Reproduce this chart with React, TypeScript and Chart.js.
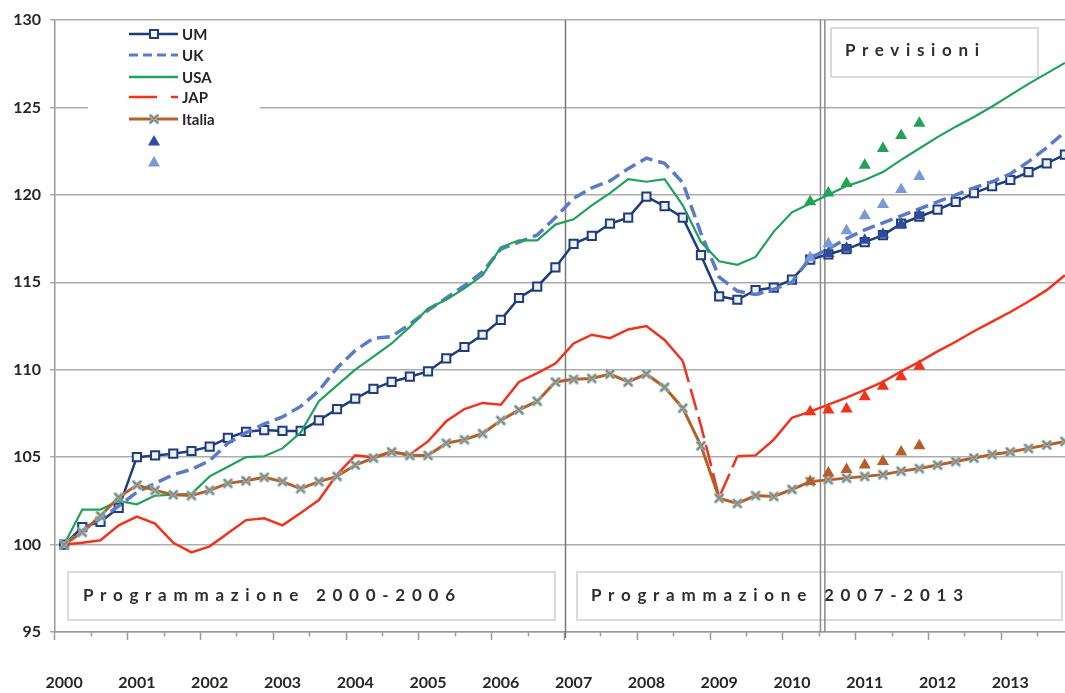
import React, { useEffect, useRef } from 'react';
import { Chart, registerables } from 'chart.js';

Chart.register(...registerables);

// ---------- data ----------
const years = [2000, 2001, 2002, 2003, 2004, 2005, 2006, 2007, 2008, 2009, 2010, 2011, 2012, 2013];
const quarters = ['T1', 'T2', 'T3', 'T4'];
const categories = years.flatMap((y) => quarters.map((q) => `${y} ${q}`));

const yTicks = [95, 100, 105, 110, 115, 120, 125, 130];

const umValues = [
  100.0, 101.0, 101.3, 102.1, 105.0, 105.1, 105.2, 105.35, 105.6, 106.1, 106.45, 106.55, 106.5, 106.5,
  107.1, 107.75, 108.35, 108.9, 109.3, 109.6, 109.9, 110.65, 111.3, 112.0, 112.85, 114.1, 114.75, 115.85,
  117.2, 117.65, 118.35, 118.7, 119.9, 119.35, 118.7, 116.55, 114.2, 114.0, 114.55, 114.7, 115.15, 116.3,
  116.6, 116.9, 117.3, 117.7, 118.35, 118.75, 119.15, 119.6, 120.1, 120.5, 120.85, 121.3, 121.8, 122.3,
];
const ukValues = [
  100.0, 100.8, 101.5, 102.2, 103.0, 103.5, 104.0, 104.3, 104.8, 105.8, 106.4, 106.9, 107.3, 107.9,
  108.8, 110.1, 111.1, 111.8, 111.9, 112.6, 113.4, 114.1, 114.8, 115.6, 116.9, 117.3, 117.7, 118.7,
  119.8, 120.4, 120.8, 121.5, 122.1, 121.8, 120.7, 117.8, 115.3, 114.5, 114.3, 114.6, 115.0, 116.4,
  116.9, 117.5, 118.0, 118.4, 118.8, 119.2, 119.6, 120.0, 120.4, 120.75, 121.2, 121.9, 122.7, 123.6,
];
const usaValues = [
  100.0, 102.0, 102.0, 102.5, 102.3, 102.8, 102.85, 102.9, 103.9, 104.45, 105.0, 105.05, 105.5, 106.4,
  108.2, 109.1, 110.0, 110.75, 111.5, 112.45, 113.5, 114.0, 114.65, 115.4, 117.0, 117.4, 117.4, 118.3,
  118.6, 119.4, 120.1, 120.9, 120.75, 120.9, 119.4, 117.3, 116.2, 116.0, 116.45, 117.9, 119.0, 119.5,
  120.0, 120.5, 120.85, 121.3, 122.0, 122.65, 123.3, 123.9, 124.45, 125.05, 125.7, 126.35, 126.95, 127.55,
];
const japValues = [
  100.0, 100.1, 100.25, 101.1, 101.6, 101.2, 100.1, 99.55, 99.9, 100.65, 101.4, 101.5, 101.1, 101.8,
  102.55, 104.0, 105.1, 105.0, 105.3, 105.15, 105.9, 107.05, 107.75, 108.1, 108.0, 109.3, 109.8, 110.35,
  111.5, 112.0, 111.8, 112.3, 112.5, 111.7, 110.5, 106.8, 102.7, 105.05, 105.1, 106.0, 107.25, 107.6,
  108.0, 108.4, 108.85, 109.3, 109.9, 110.45, 111.05, 111.6, 112.2, 112.75, 113.3, 113.9, 114.55, 115.4,
];
const italiaValues = [
  100.0, 100.7, 101.65, 102.7, 103.4, 103.1, 102.85, 102.8, 103.1, 103.5, 103.65, 103.85, 103.6, 103.2,
  103.6, 103.9, 104.55, 104.95, 105.3, 105.1, 105.1, 105.8, 106.0, 106.35, 107.1, 107.7, 108.2, 109.3,
  109.45, 109.5, 109.75, 109.3, 109.75, 109.0, 107.8, 105.65, 102.65, 102.35, 102.8, 102.75, 103.15, 103.6,
  103.7, 103.8, 103.9, 104.0, 104.2, 104.35, 104.55, 104.75, 104.95, 105.15, 105.3, 105.5, 105.7, 105.9,
];

// forecasts (triangles): first category index + values
const forecastStart = 41; // 2010 T2
const usaForecast = [119.6, 120.1, 120.65, 121.7, 122.65, 123.4, 124.1];
const ukForecast = [116.4, 117.2, 117.95, 118.8, 119.45, 120.3, 121.05];
const umForecast = [null, 116.65, 116.95, 117.4, 117.75, 118.3, 118.8];
const japForecast = [107.6, 107.7, 107.75, 108.45, 109.05, 109.6, 110.2];
const italiaForecast = [103.6, 104.1, 104.3, 104.55, 104.75, 105.3, 105.65];

const japDashedFrom = 34; // dashed segments 2008 T3 -> 2009 T2
const japDashedTo = 36;
const period2Start = 28; // 2007 T1
const forecastLine = 42; // 2010 T3

function placeForecast(values: (number | null)[]) {
  const out: (number | null)[] = categories.map(() => null);
  values.forEach((v, k) => {
    out[forecastStart + k] = v;
  });
  return out;
}

// ---------- colours ----------
const C_UM = '#1f3d7a';
const C_UK = '#5b7bc8';
const C_USA = '#1fa25a';
const C_JAP = '#f2321c';
const C_IT = '#b5602a';
const C_IT_MARK = '#7cc3d9';
const C_TRI_DARK = '#2f4b9c';
const C_TRI_LIGHT = '#7c98d6';
const C_TRI_RED = '#f0341c';
const C_TRI_GREEN = '#22a257';
const C_TRI_BROWN = '#b5602a';

function makeItaliaMarker(): HTMLCanvasElement {
  const c = document.createElement('canvas');
  c.width = 12;
  c.height = 12;
  const g = c.getContext('2d')!;
  g.lineCap = 'round';
  const path = () => {
    g.beginPath();
    g.moveTo(2.5, 2.5);
    g.lineTo(9.5, 9.5);
    g.moveTo(9.5, 2.5);
    g.lineTo(2.5, 9.5);
  };
  g.strokeStyle = C_IT_MARK;
  g.lineWidth = 3.4;
  path();
  g.stroke();
  g.strokeStyle = C_IT;
  g.lineWidth = 1.1;
  path();
  g.stroke();
  return c;
}

function spacedText(ctx: CanvasRenderingContext2D, text: string, x: number, y: number, target: number) {
  const plain = ctx.measureText(text).width;
  const sp = (target - plain) / (text.length - 1);
  const anyCtx = ctx as any;
  if ('letterSpacing' in anyCtx) {
    anyCtx.letterSpacing = `${sp}px`;
    ctx.fillText(text, x, y);
    anyCtx.letterSpacing = '0px';
  } else {
    let cx = x;
    for (const ch of text) {
      ctx.fillText(ch, cx, y);
      cx += ctx.measureText(ch).width + sp;
    }
  }
}

function drawTriangle(ctx: CanvasRenderingContext2D, x: number, y: number, r: number, color: string) {
  ctx.beginPath();
  for (let k = 0; k < 3; k++) {
    const a = (k * 2 * Math.PI) / 3;
    const px = x + Math.sin(a) * r;
    const py = y - Math.cos(a) * r;
    if (k === 0) ctx.moveTo(px, py);
    else ctx.lineTo(px, py);
  }
  ctx.closePath();
  ctx.fillStyle = color;
  ctx.fill();
}

export default function App() {
  const ref = useRef<HTMLCanvasElement | null>(null);

  useEffect(() => {
    document.body.style.margin = '0';
    const canvas = ref.current;
    if (!canvas) return;
    const itMarker = makeItaliaMarker();

    const overlay = {
      id: 'overlay',
      beforeDatasetsDraw(chart: any) {
        const ctx: CanvasRenderingContext2D = chart.ctx;
        const xs = chart.scales.x;
        const area = chart.chartArea;
        const boundary = (i: number) => (xs.getPixelForValue(i - 1) + xs.getPixelForValue(i)) / 2;
        ctx.save();

        // text boxes
        const box = (x1: number, y1: number, x2: number, y2: number) => {
          ctx.fillStyle = 'rgba(255,255,255,0.75)';
          ctx.fillRect(x1, y1, x2 - x1, y2 - y1);
          ctx.strokeStyle = '#cfcfcf';
          ctx.lineWidth = 1.5;
          ctx.strokeRect(x1, y1, x2 - x1, y2 - y1);
        };
        box(68, 572, 555, 620);
        box(577, 572, 1062, 620);
        box(831, 28, 1038, 77);

        ctx.fillStyle = '#2e2e2e';
        ctx.font = 'bold 17px Lato, "Open Sans", sans-serif';
        ctx.textBaseline = 'middle';
        ctx.textAlign = 'left';
        spacedText(ctx, 'Programmazione 2000-2006', 83, 596, 372);
        spacedText(ctx, 'Programmazione 2007-2013', 591, 596, 372);
        spacedText(ctx, 'Previsioni', 845, 51, 134);

        // vertical separators
        const xp = boundary(period2Start) + 1;
        ctx.strokeStyle = '#7a7a7a';
        ctx.lineWidth = 1.5;
        ctx.beginPath();
        ctx.moveTo(xp, area.top);
        ctx.lineTo(xp, area.bottom + 6);
        ctx.stroke();
        const xf = boundary(forecastLine);
        ctx.strokeStyle = '#8a8a8a';
        ctx.beginPath();
        ctx.moveTo(xf + 1.2, area.top);
        ctx.lineTo(xf + 1.2, area.bottom);
        ctx.moveTo(xf + 5.6, area.top);
        ctx.lineTo(xf + 5.6, area.bottom);
        ctx.stroke();

        // legend
        ctx.fillStyle = '#ffffff';
        ctx.fillRect(88, 24, 172, 150);
        const lx1 = 129;
        const lx2 = 178;
        const lxm = 154;
        const tx = 182;
        ctx.font = 'bold 15px Lato, "Open Sans", sans-serif';
        const label = (t: string, y: number) => {
          ctx.fillStyle = '#262626';
          ctx.fillText(t, tx, y + 1);
        };
        const seg = (y: number, color: string, w: number, dash: number[]) => {
          ctx.strokeStyle = color;
          ctx.lineWidth = w;
          ctx.setLineDash(dash);
          ctx.beginPath();
          ctx.moveTo(lx1, y);
          ctx.lineTo(lx2, y);
          ctx.stroke();
          ctx.setLineDash([]);
        };
        // UM
        seg(34, C_UM, 2.5, []);
        ctx.fillStyle = '#ffffff';
        ctx.fillRect(lxm - 4, 30, 8, 8);
        ctx.strokeStyle = C_UM;
        ctx.lineWidth = 2;
        ctx.strokeRect(lxm - 4, 30, 8, 8);
        label('UM', 34);
        // UK
        seg(55, C_UK, 3, [9, 5]);
        label('UK', 55);
        // USA
        seg(77, C_USA, 2.5, []);
        label('USA', 77);
        // JAP
        seg(97, C_JAP, 2.5, [28, 14]);
        label('JAP', 97);
        // Italia
        seg(119, C_IT, 3, []);
        ctx.drawImage(itMarker, lxm - 6, 113);
        label('Italia', 119);
        // triangles
        drawTriangle(ctx, lxm, 142, 7, C_TRI_DARK);
        drawTriangle(ctx, lxm, 163, 7, C_TRI_LIGHT);

        ctx.restore();
      },
    };

    const tri = (data: (number | null)[], color: string, order: number) => ({
      label: '',
      data: placeForecast(data),
      showLine: false,
      pointStyle: 'triangle',
      pointRadius: 7,
      pointBorderWidth: 0,
      pointBackgroundColor: color,
      pointBorderColor: color,
      borderColor: color,
      backgroundColor: color,
      order,
    });

    const chart = new Chart(canvas, {
      type: 'line',
      data: {
        labels: categories,
        datasets: [
          {
            label: 'UM',
            data: umValues,
            borderColor: C_UM,
            borderWidth: 2.5,
            pointStyle: 'rect',
            pointRadius: 5.8,
            pointBorderWidth: 2,
            pointBorderColor: C_UM,
            pointBackgroundColor: '#eef1f7',
            order: 9,
          },
          {
            label: 'UK',
            data: ukValues,
            borderColor: C_UK,
            borderWidth: 3.5,
            borderDash: [13, 6],
            pointRadius: 0,
            order: 8,
          },
          {
            label: 'USA',
            data: usaValues,
            borderColor: C_USA,
            borderWidth: 2.2,
            pointRadius: 0,
            order: 7,
          },
          {
            label: 'JAP',
            data: japValues,
            borderColor: C_JAP,
            borderWidth: 2.5,
            pointRadius: 0,
            segment: {
              borderDash: (ctx: any) =>
                ctx.p0DataIndex >= japDashedFrom && ctx.p0DataIndex <= japDashedTo ? [22, 7] : undefined,
            },
            order: 6,
          },
          {
            label: 'Italia',
            data: italiaValues,
            borderColor: C_IT,
            borderWidth: 3,
            pointStyle: itMarker,
            pointRadius: 6,
            order: 5,
          },
          tri(umForecast, C_TRI_DARK, 4),
          tri(ukForecast, C_TRI_LIGHT, 3),
          tri(usaForecast, C_TRI_GREEN, 2),
          tri(japForecast, C_TRI_RED, 1),
          tri(italiaForecast, C_TRI_BROWN, 0),
        ] as any,
      },
      options: {
        responsive: false,
        maintainAspectRatio: false,
        animation: false,
        devicePixelRatio: 1,
        layout: { autoPadding: false, padding: { top: 20, right: 0, left: 0, bottom: 0 } },
        elements: { line: { tension: 0 } },
        plugins: {
          legend: { display: false },
          tooltip: { enabled: false },
        },
        scales: {
          x: {
            type: 'category',
            offset: true,
            grid: {
              offset: true,
              drawOnChartArea: false,
              drawTicks: true,
              tickLength: 8,
              tickWidth: 1.5,
              tickColor: (ctx: any) =>
                typeof ctx.index === 'number' && ctx.index % 2 === 0 ? '#9a9a9a' : 'rgba(0,0,0,0)',
              tickBorderDash: (ctx: any) =>
                typeof ctx.index === 'number' && ctx.index % 4 === 2 ? [4, 30] : [],
            } as any,
            border: { color: '#9a9a9a', width: 1.5 },
            ticks: {
              autoSkip: false,
              maxRotation: 0,
              minRotation: 0,
              padding: 2,
              color: '#262626',
              font: { family: 'Lato, "Open Sans", sans-serif', size: 16, weight: 'bold', lineHeight: '82px' },
              callback: (_v: any, i: number) => (i % 4 === 0 ? String(years[i / 4]) : ''),
            },
            afterFit: (scale: any) => {
              scale.height = 61;
              scale.paddingLeft = 0;
              scale.paddingRight = 0;
            },
          },
          y: {
            min: yTicks[0],
            max: yTicks[yTicks.length - 1],
            grid: {
              color: '#acacac',
              lineWidth: 1.5,
              tickLength: 5,
              tickColor: '#acacac',
            },
            border: { color: '#9a9a9a', width: 1.5 },
            ticks: {
              stepSize: yTicks[1] - yTicks[0],
              padding: 9,
              color: '#262626',
              font: { family: 'Lato, "Open Sans", sans-serif', size: 16, weight: 'bold' },
            },
            afterFit: (scale: any) => {
              scale.width = 55;
            },
          },
        },
      },
      plugins: [overlay],
    } as any);

    return () => {
      chart.destroy();
    };
  }, []);

  return (
    <div style={{ position: 'relative', width: 1065, height: 693, overflow: 'hidden', background: '#fff' }}>
      <canvas ref={ref} width={1074} height={693} style={{ display: 'block' }} />
    </div>
  );
}
